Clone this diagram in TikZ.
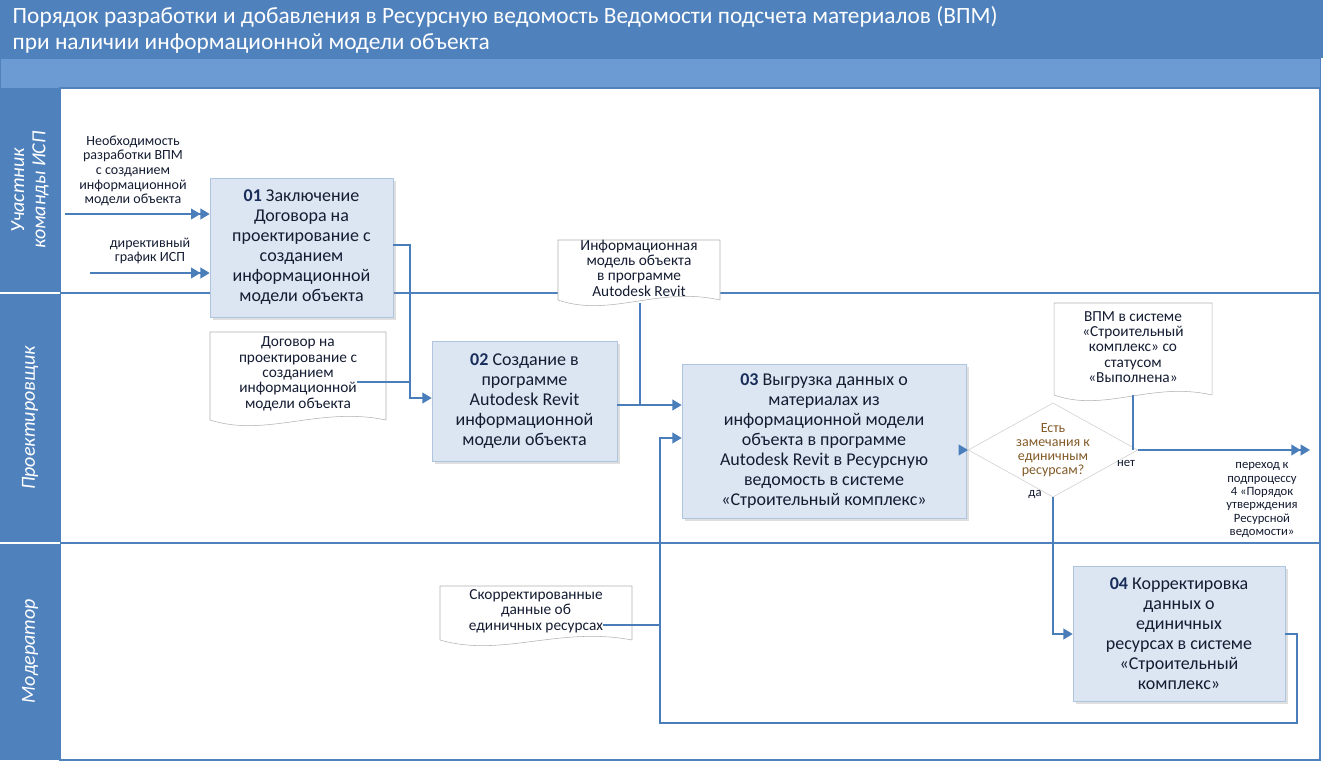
\documentclass[tikz,border=0pt]{standalone}
\usepackage{fontspec}
\setmainfont{Carlito}
\usetikzlibrary{arrows.meta,shapes.geometric,shadows}
\definecolor{hdr}{RGB}{79,129,189}
\definecolor{bar}{RGB}{108,155,212}
\definecolor{bfill}{RGB}{220,230,242}
\definecolor{bline}{RGB}{175,196,222}
\definecolor{arr}{RGB}{74,126,187}
\definecolor{num}{RGB}{25,45,90}
\definecolor{txt}{RGB}{20,28,50}
\definecolor{dtxt}{RGB}{130,90,40}
\tikzset{
 procbox/.style={draw=bline,fill=bfill,align=center,text=txt,font=\fontsize{13.5}{15}\selectfont,inner sep=2pt,drop shadow={shadow xshift=2pt,shadow yshift=-2pt,opacity=0.25}},
 small/.style={align=center,text=txt,font=\fontsize{10.5}{11}\selectfont,inner sep=0pt},
 conn/.style={draw=arr,line width=1.4pt},
 tip/.style={conn,-{Triangle[length=7pt,width=8pt]}},
 dtip/.style={conn,-{Triangle[length=7pt,width=8pt]Triangle[length=7pt,width=8pt]}},
 lanelbl/.style={rotate=90,text=white,font=\fontsize{15}{16}\selectfont\itshape,align=center},
}
\newcommand\docbox[6]{%
 \draw[draw=gray!60,fill=white] (#2,#3) -- (#4,#3) -- (#4,#5) .. controls ({#2+0.62*(#4-#2)},{#5-14}) and ({#2+0.32*(#4-#2)},{#5+18}) .. (#2,#5) -- cycle;
 \node[small,font=\fontsize{11.5}{11.5}\selectfont] (#1) at ({(#2+#4)/2},{(#3+#5)/2-2}) {#6};}
\begin{document}
\begin{tikzpicture}[x=0.75pt,y=-0.75pt]
\useasboundingbox (0,0) rectangle (1323,763);
\fill[white] (0,0) rectangle (1323,763);
% title
\fill[hdr] (0,0) rectangle (1323,58);
\node[anchor=north west,text=white,align=left,font=\fontsize{17.5}{19.5}\selectfont] (title) at (8,2) {Порядок разработки и добавления в Ресурсную ведомость Ведомости подсчета материалов (ВПМ)\\при наличии информационной модели объекта};
\fill[bar,draw=hdr] (0,58) rectangle (1320,88);
% lanes
\fill[hdr] (0,88) rectangle (60,760);
\draw[hdr,line width=1.2pt] (60,88) rectangle (1320,760);
\draw[hdr,line width=1.2pt] (0,293) -- (1320,293);
\draw[hdr,line width=1.2pt] (0,543) -- (1320,543);
\draw[white,line width=0.8pt] (0,293) -- (60,293) (0,543) -- (60,543);
\node[lanelbl] (l1) at (30,190) {Участник\\команды ИСП};
\node[lanelbl] (l2) at (30,418) {Проектировщик};
\node[lanelbl] (l3) at (30,651) {Модератор};
% boxes
\node[procbox,minimum width=183pt*0.75,minimum height=139pt*0.75] (b1) at (301.5,247.5) {\textbf{\color{num}01} Заключение\\Договора на\\проектирование с\\созданием\\информационной\\модели объекта};
\node[procbox,minimum width=185*0.75pt,minimum height=120*0.75pt] (b2) at (524.5,401) {\textbf{\color{num}02} Создание в\\программе\\Autodesk Revit\\информационной\\модели объекта};
\node[procbox,minimum width=284*0.75pt,minimum height=154*0.75pt] (b3) at (824,441) {\textbf{\color{num}03} Выгрузка данных о\\материалах из\\информационной модели\\объекта в программе\\Autodesk Revit в Ресурсную\\ведомость в системе\\«Строительный комплекс»};
\node[procbox,minimum width=212*0.75pt,minimum height=135*0.75pt] (b4) at (1179,633.5) {\textbf{\color{num}04} Корректировка\\данных о\\единичных\\ресурсах в системе\\«Строительный\\комплекс»};
% diamond
\node[diamond,draw=gray!40,fill=white,aspect=1.8,minimum width=125*0.75pt,minimum height=70*0.75pt,inner sep=0pt,align=center,text=dtxt,font=\fontsize{10.5}{10.5}\selectfont] (d) at (1053,450) {Есть\\замечания к\\единичным\\ресурсам?};
% documents
\docbox{doc1}{558}{240}{720}{300}{Информационная\\модель объекта\\в программе\\Autodesk Revit}
\docbox{doc2}{210}{332}{386}{420}{Договор на\\проектирование с\\созданием\\информационной\\модели объекта}
\docbox{doc3}{1054}{303}{1212}{395}{ВПМ в системе\\«Строительный\\комплекс» со\\статусом\\«Выполнена»}
\docbox{doc4}{440}{586}{632}{640}{Скорректированные\\данные об\\единичных ресурсах}
% inputs
\coordinate (i1) at (65,214);
\coordinate (i2) at (90,273);
\node[small] (t1) at (133,171) {Необходимость\\разработки ВПМ\\с созданием\\информационной\\модели объекта};
\node[small] (t2) at (150,251) {директивный\\график ИСП};
\draw[dtip] (i1) -- (i1 -| b1.west);
\draw[dtip] (i2) -- (i2 -| b1.west);
% flows
\coordinate (j1) at (410,245);
\draw[tip] (b1.east |- j1) -- (j1) -- (410,398) -- (b2.west |- 0,398);
\draw[conn] (doc2.east |- 0,382) -- (410,382);
\draw[tip] (b2.east |- 0,405) -- (b3.west |- 0,405);
\draw[conn] (640,303) -- (640,405);
\draw[tip] (b3.east |- d) -- (d.west);
\coordinate (out) at (1310,450);
\draw[dtip] (d.east) -- (out);
\draw[conn] (1133,395) -- (1133,450);
\node[small,font=\fontsize{9.5}{10}\selectfont] (no) at (1126,463) {нет};
\node[small,font=\fontsize{9.5}{10}\selectfont] (yes) at (1035,494) {да};
\node[small,font=\fontsize{9.5}{10}\selectfont] (go) at (1262,500) {переход к\\подпроцессу\\4 «Порядок\\утверждения\\Ресурсной\\ведомости»};
\draw[tip] (d.south) -- (1053,634) -- (b4.west |- 0,634);
\draw[tip] (b4.east |- 0,634) -- (1297,634) -- (1297,723) -- (660,723) -- (660,438) -- (b3.west |- 0,438);
\draw[conn] (doc4.east |- 0,625) -- (660,625);
\end{tikzpicture}
\end{document}
